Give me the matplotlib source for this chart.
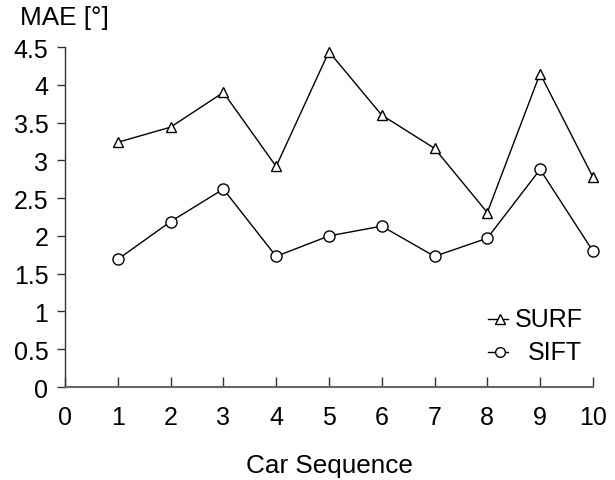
import matplotlib
matplotlib.use('Agg')
import matplotlib.pyplot as plt

# data
seq = [1, 2, 3, 4, 5, 6, 7, 8, 9, 10]
surf_mae = [3.24, 3.44, 3.90, 2.92, 4.44, 3.60, 3.16, 2.31, 4.15, 2.78]
sift_mae = [1.69, 2.19, 2.62, 1.73, 2.00, 2.13, 1.73, 1.97, 2.88, 1.80]
x_ticks = list(range(0, 11))
y_ticks = [0, 0.5, 1, 1.5, 2, 2.5, 3, 3.5, 4, 4.5]
y_ticklabels = ['0', '0.5', '1', '1.5', '2', '2.5', '3', '3.5', '4', '4.5']

plt.rcParams['font.family'] = ['Liberation Sans', 'DejaVu Sans']
plt.rcParams['font.size'] = 18

fig = plt.figure(figsize=(6.15, 4.81), dpi=100)
ax = fig.add_axes([0.1057, 0.1933, 0.8583, 0.7067])

ax.plot(seq, surf_mae, '-', color='black', lw=1.0, marker='^', markersize=7.5,
        markerfacecolor='white', markeredgecolor='black', markeredgewidth=1.0, clip_on=False)
ax.plot(seq, sift_mae, '-', color='black', lw=1.0, marker='o', markersize=8,
        markerfacecolor='white', markeredgecolor='black', markeredgewidth=1.0, clip_on=False)

ax.set_xlim(0, 10)
ax.set_ylim(0, 4.5)
ax.set_xticks(x_ticks)
ax.set_yticks(y_ticks)
ax.set_yticklabels(y_ticklabels)

for s in ['top', 'right']:
    ax.spines[s].set_visible(False)
ax.spines['left'].set_linewidth(1.0)
ax.spines['left'].set_color('#333333')
ax.spines['bottom'].set_linewidth(1.5)
ax.spines['bottom'].set_color('#666666')
ax.tick_params(axis='x', direction='in', length=7, width=1.0, pad=13, colors='#333333', labelcolor='black')
ax.tick_params(axis='y', direction='out', length=6, width=1.0, pad=6, colors='#333333', labelcolor='black')

# axis titles
fig.text(0.104, 0.962, 'MAE [°]', ha='center', va='center', fontsize=18.8)
fig.text(0.536, 0.031, 'Car Sequence', ha='center', va='center', fontsize=18.8)

# gnuplot-style key, samples to the left, text right-aligned
key_rows = [('SURF', '^', 6.5, 0.335), ('SIFT', 'o', 7, 0.267)]
for label, mk, ms, yf in key_rows:
    ax.plot([0.794, 0.826], [yf, yf], transform=fig.transFigure, color='black', lw=1.0,
            clip_on=False)
    ax.plot([0.813], [yf], transform=fig.transFigure, marker=mk, markersize=ms,
            markerfacecolor='white', markeredgecolor='black', markeredgewidth=1.0, clip_on=False)
    fig.text(0.947, yf, label, ha='right', va='center', fontsize=18)

fig.savefig('out.png', dpi=100)
